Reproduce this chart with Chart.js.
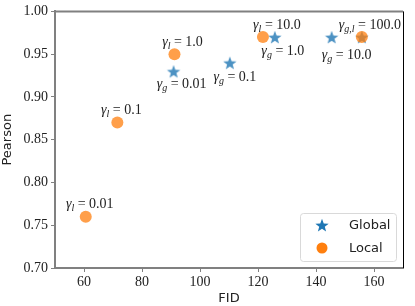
<!DOCTYPE html>
<html>
<head>
<meta charset="utf-8">
<script src="https://cdn.jsdelivr.net/npm/chart.js@4.4.1/dist/chart.umd.min.js"></script>
<style>
  html, body { margin: 0; padding: 0; background: #fff; }
  #wrap { width: 415px; height: 306px; }
</style>
</head>
<body>
<div id="wrap"><canvas id="chart" width="415" height="306"></canvas></div>
<script>
// data
const globalFid = [90.9, 110.3, 125.8, 145.4, 155.8];
const globalPearson = [0.93, 0.94, 0.97, 0.97, 0.97];
const globalLabels = [['g', '0.01'], ['g', '0.1'], ['g', '1.0'], ['g', '10.0'], null];
const localFid = [60.6, 71.5, 91.2, 121.7, 155.8];
const localPearson = [0.76, 0.87, 0.95, 0.97, 0.97];
const localLabels = [['l', '0.01'], ['l', '0.1'], ['l', '1.0'], ['l', '10.0'], ['g,l', '100.0']];
const xTicks = [60, 80, 100, 120, 140, 160];
const yTicks = [0.70, 0.75, 0.80, 0.85, 0.90, 0.95, 1.00];

// label placement (pixel offsets from the mark: centre x, baseline y)
const globalOffsets = [[8, 17], [5, 18], [8, 18], [15, 22], null];
const localOffsets = [[4, -9], [4, -9], [8, -8], [14, -8], [8, -8]];

const blue = 'rgba(31,119,180,0.8)';
const orange = 'rgba(255,127,14,0.75)';
const serif = '"Liberation Serif", "DejaVu Serif", serif';
const sans = '"DejaVu Sans", sans-serif';

function makeStar(r, color) {
    const c = document.createElement('canvas');
    c.width = r * 2 + 2;
    c.height = r * 2 + 2;
    const g = c.getContext('2d');
    const cx = c.width / 2, cy = c.height / 2 + 0.8;
    g.beginPath();
    for (let i = 0; i < 10; i++) {
        const rad = i % 2 === 0 ? r : r * 0.42;
        const a = -Math.PI / 2 + i * Math.PI / 5;
        g.lineTo(cx + rad * Math.cos(a), cy + rad * Math.sin(a));
    }
    g.closePath();
    g.fillStyle = color;
    g.fill();
    return c;
}
const starImg = makeStar(7, blue);
const starLegend = makeStar(7, '#1f77b4');

function drawGamma(ctx, x, y, sub, val) {
    ctx.save();
    ctx.fillStyle = '#222';
    ctx.textBaseline = 'alphabetic';
    const fMain = 'italic 14px ' + serif;
    const fSub = 'italic 10px ' + serif;
    const fVal = '14px ' + serif;
    ctx.font = fMain;
    const wg = ctx.measureText('γ').width;
    ctx.font = fSub;
    const ws = ctx.measureText(sub).width;
    ctx.font = fVal;
    const rest = ' = ' + val;
    const wr = ctx.measureText(rest).width;
    let left = x - (wg + ws + wr) / 2;
    ctx.textAlign = 'left';
    ctx.font = fMain;
    ctx.fillText('γ', left, y);
    left += wg;
    ctx.font = fSub;
    ctx.fillText(sub, left, y + 3);
    left += ws;
    ctx.font = fVal;
    ctx.fillText(rest, left, y);
    ctx.restore();
}

const annotatePlugin = {
    id: 'annotate',
    afterDatasetsDraw(chart) {
        const ctx = chart.ctx;
        const xs = chart.scales.x, ys = chart.scales.y;
        const area = chart.chartArea;

        // top and right spines
        ctx.save();
        ctx.strokeStyle = '#808080';
        ctx.lineWidth = 2;
        ctx.beginPath();
        ctx.moveTo(area.left, area.top);
        ctx.lineTo(area.right, area.top);
        ctx.stroke();
        ctx.strokeStyle = '#000';
        ctx.lineWidth = 1;
        ctx.beginPath();
        ctx.moveTo(area.right + 0.5, area.top);
        ctx.lineTo(area.right + 0.5, area.bottom);
        ctx.stroke();
        ctx.restore();

        globalFid.forEach((v, i) => {
            if (!globalLabels[i]) return;
            const px = xs.getPixelForValue(v), py = ys.getPixelForValue(globalPearson[i]);
            drawGamma(ctx, px + globalOffsets[i][0], py + globalOffsets[i][1], globalLabels[i][0], globalLabels[i][1]);
        });
        localFid.forEach((v, i) => {
            if (!localLabels[i]) return;
            const px = xs.getPixelForValue(v), py = ys.getPixelForValue(localPearson[i]);
            drawGamma(ctx, px + localOffsets[i][0], py + localOffsets[i][1], localLabels[i][0], localLabels[i][1]);
        });

        // legend, lower right
        const bx = area.right - 103, by = area.bottom - 55, bw = 96, bh = 48;
        ctx.save();
        ctx.fillStyle = 'rgba(255,255,255,0.8)';
        ctx.strokeStyle = '#d9d9d9';
        ctx.lineWidth = 1;
        ctx.beginPath();
        ctx.roundRect(bx + 0.5, by + 0.5, bw, bh, 3);
        ctx.fill();
        ctx.stroke();
        ctx.drawImage(starLegend, bx + 22 - starLegend.width / 2, by + 12 - starLegend.height / 2);
        ctx.fillStyle = '#ff7f0e';
        ctx.beginPath();
        ctx.arc(bx + 22, by + 35, 5.5, 0, Math.PI * 2);
        ctx.fill();
        ctx.fillStyle = '#222';
        ctx.font = '13px ' + sans;
        ctx.textBaseline = 'middle';
        ctx.fillText('Global', bx + 49, by + 13);
        ctx.fillText('Local', bx + 49, by + 36);
        ctx.restore();
    }
};

new Chart(document.getElementById('chart'), {
    type: 'scatter',
    data: {
        datasets: [
            {
                label: 'Global',
                data: globalFid.map((v, i) => ({ x: v, y: globalPearson[i] })),
                pointStyle: starImg,
                pointRadius: 7,
                order: 2
            },
            {
                label: 'Local',
                data: localFid.map((v, i) => ({ x: v, y: localPearson[i] })),
                pointStyle: 'circle',
                pointRadius: 6,
                backgroundColor: orange,
                borderWidth: 0,
                order: 1
            }
        ]
    },
    options: {
        responsive: false,
        animation: false,
        layout: { padding: { top: 10, right: 12, left: 0, bottom: 0 } },
        plugins: {
            legend: { display: false },
            tooltip: { enabled: false }
        },
        scales: {
            x: {
                min: 50,
                max: 170,
                afterBuildTicks: s => { s.ticks = xTicks.map(v => ({ value: v })); },
                afterFit: s => { s.height = 38; },
                border: { color: '#808080', width: 2 },
                grid: { drawOnChartArea: false, color: '#808080', tickLength: 4 },
                ticks: { color: '#222', font: { family: serif, size: 14 }, padding: 2, maxRotation: 0 },
                title: { display: true, text: 'FID', color: '#222', font: { family: sans, size: 13 }, padding: { top: 0, bottom: 0 } }
            },
            y: {
                min: 0.70,
                max: 1.00,
                afterBuildTicks: s => { s.ticks = yTicks.map(v => ({ value: v })); },
                afterFit: s => { s.width = 55; },
                border: { color: '#808080', width: 2 },
                grid: { drawOnChartArea: false, color: '#808080', tickLength: 4 },
                ticks: { color: '#222', font: { family: serif, size: 14 }, padding: 3, callback: v => v.toFixed(2) },
                title: { display: true, text: 'Pearson', color: '#222', font: { family: sans, size: 13 }, padding: { top: 0, bottom: 2 } }
            }
        }
    },
    plugins: [annotatePlugin]
});
</script>
</body>
</html>
